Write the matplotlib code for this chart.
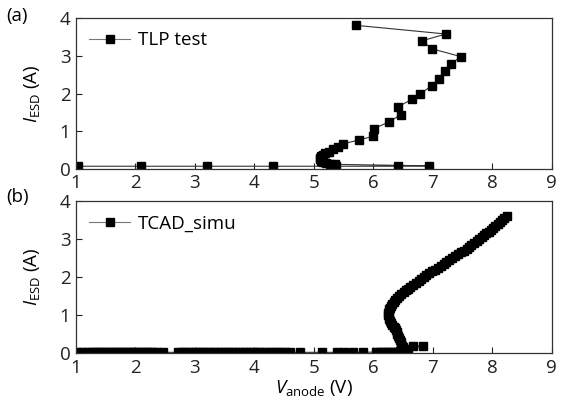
import matplotlib
matplotlib.use("Agg")
import matplotlib.pyplot as plt

plt.rcParams['font.family'] = ['Open Sans', 'DejaVu Sans']
plt.rcParams['mathtext.fontset'] = 'custom'
plt.rcParams['mathtext.it'] = 'Open Sans:italic'
plt.rcParams['mathtext.rm'] = 'Open Sans'

# (a) TLP test data
tlp_v = [1.03, 2.10, 3.20, 4.31, 5.38, 6.42, 6.94,
         5.35, 5.27, 5.20, 5.15, 5.12, 5.10, 5.10, 5.12, 5.15, 5.19, 5.25, 5.32, 5.40,
         5.49, 5.76, 5.99, 6.01, 6.27, 6.46, 6.42, 6.65, 6.79, 6.98, 7.10, 7.21, 7.30,
         7.47, 6.98, 6.82, 7.22, 5.71]
tlp_i = [0.07, 0.07, 0.07, 0.07, 0.07, 0.07, 0.08,
         0.12, 0.13, 0.15, 0.18, 0.21, 0.25, 0.29, 0.33, 0.37, 0.41, 0.46, 0.52, 0.58,
         0.66, 0.77, 0.86, 1.07, 1.25, 1.44, 1.65, 1.85, 2.00, 2.20, 2.39, 2.59, 2.78,
         2.98, 3.19, 3.40, 3.58, 3.81]

# (b) TCAD simulation data
tcad_v = [1.03, 1.10, 1.18, 1.25, 1.30, 1.35, 1.40, 1.45, 1.50, 1.55, 1.60, 1.65, 1.70,
          1.75, 1.80, 1.85, 1.90, 1.95, 2.00, 2.05, 2.10, 2.15, 2.20, 2.25, 2.30, 2.36,
          2.47, 2.72, 2.78, 2.84, 2.90, 2.96, 3.02, 3.08, 3.14, 3.20, 3.26, 3.32, 3.38,
          3.44, 3.50, 3.56, 3.62, 3.68, 3.74, 3.80, 3.86, 3.92, 3.97, 4.04, 4.10, 4.17,
          4.24, 4.31, 4.38, 4.45, 4.52, 4.60, 4.77, 5.13, 5.39, 5.50, 5.66, 5.82, 6.05,
          6.10, 6.15, 6.20, 6.25, 6.30, 6.35, 6.40, 6.45, 6.50, 6.58, 6.66, 6.83,
          6.52, 6.50, 6.49, 6.47, 6.46, 6.45, 6.43, 6.41, 6.40, 6.39, 6.38, 6.37, 6.35,
          6.32, 6.30, 6.28, 6.27, 6.26, 6.25, 6.25, 6.26, 6.27, 6.28, 6.30, 6.32, 6.35,
          6.37, 6.40, 6.43, 6.47, 6.51, 6.55, 6.58, 6.62, 6.67, 6.71, 6.76, 6.80, 6.85,
          6.89, 6.94, 6.99, 7.04, 7.09, 7.14, 7.18, 7.23, 7.28, 7.33, 7.38, 7.42, 7.47,
          7.52, 7.57, 7.61, 7.65, 7.70, 7.74, 7.78, 7.82, 7.86, 7.90, 7.94, 7.98, 8.02,
          8.05, 8.09, 8.13, 8.17, 8.20, 8.24]
tcad_i = [0.02] * 64 + [0.03, 0.03, 0.03, 0.03, 0.03, 0.04, 0.04, 0.04, 0.05, 0.06, 0.10,
          0.20, 0.18,
          0.10, 0.15, 0.20, 0.25, 0.30, 0.35, 0.40, 0.45, 0.50, 0.55, 0.60, 0.65, 0.70,
          0.75, 0.80, 0.85, 0.90, 0.95, 1.00, 1.05, 1.10, 1.15, 1.20, 1.25, 1.30, 1.35,
          1.40, 1.45, 1.50, 1.55, 1.60, 1.65, 1.70, 1.75, 1.80, 1.85, 1.90, 1.95, 2.00,
          2.05, 2.10, 2.15, 2.20, 2.25, 2.30, 2.35, 2.40, 2.45, 2.50, 2.55, 2.60, 2.65,
          2.70, 2.75, 2.80, 2.85, 2.90, 2.95, 3.00, 3.05, 3.10, 3.15, 3.20, 3.25, 3.30,
          3.35, 3.40, 3.45, 3.50, 3.55, 3.60]

x_ticks = [1, 2, 3, 4, 5, 6, 7, 8, 9]
y_ticks = [0, 1, 2, 3, 4]

fig = plt.figure(figsize=(5.63, 4.04), dpi=100)
ax1 = fig.add_axes([0.135, 0.582, 0.845, 0.373])
ax2 = fig.add_axes([0.135, 0.126, 0.845, 0.376])

line_kw = dict(color='#333333', lw=0.8, marker='s', markersize=5.6,
               markerfacecolor='black', markeredgecolor='black')

ax1.plot(tlp_v, tlp_i, label='TLP test', **line_kw)
ax2.plot(tcad_v, tcad_i, label='TCAD_simu', **line_kw)

FS = 13.5
for ax, tag, ty in ((ax1, '(a)', 388), (ax2, '(b)', 207)):
    ax.set_xlim(1, 9)
    ax.set_ylim(0, 4)
    ax.set_xticks(x_ticks)
    ax.set_yticks(y_ticks)
    ax.tick_params(direction='in', length=4, width=0.8, labelsize=FS, pad=4,
                   colors='#222222')
    for s in ax.spines.values():
        s.set_linewidth(0.9)
        s.set_color('#333333')
    ax.set_ylabel(r'$\mathit{I}_{\mathrm{ESD}}$ (A)', fontsize=FS, labelpad=13)
    leg = ax.legend(loc='upper left', frameon=False, fontsize=FS,
                    handlelength=2.2, handletextpad=0.4, borderaxespad=0.3)
    for h in leg.get_lines():
        h.set_color('#777777')
    fig.text(6 / 563, ty / 404, tag, fontsize=FS, ha='left', va='center')

ax2.set_xlabel(r'$\mathit{V}_{\mathrm{anode}}$ (V)', fontsize=FS, labelpad=1)

fig.savefig('out.png', dpi=100)
